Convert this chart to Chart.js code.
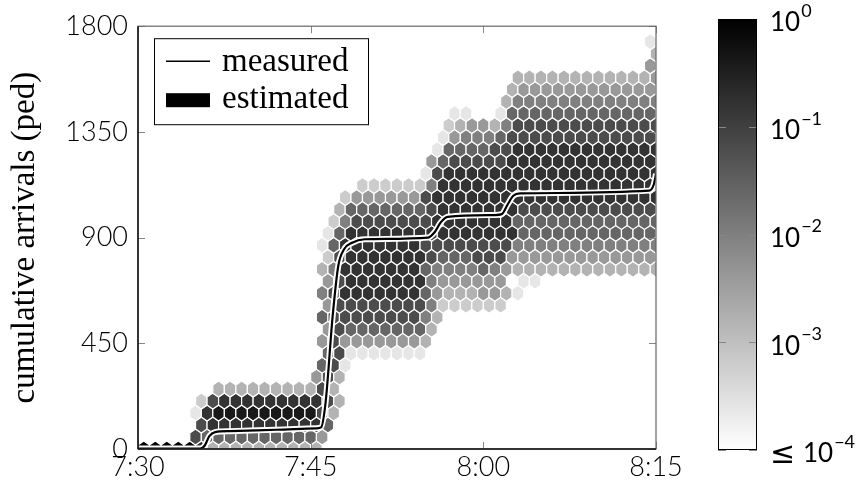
<!DOCTYPE html>
<html>
<head>
<meta charset="utf-8">
<script src="https://cdn.jsdelivr.net/npm/chart.js@4.4.1/dist/chart.umd.min.js"></script>
<style>
  html, body { margin: 0; padding: 0; background: #fff; }
  #wrap { position: relative; width: 862px; height: 486px; }
  #main { position: absolute; left: 0; top: 0; }
  #bar { position: absolute; left: 700px; top: 0; }
</style>
</head>
<body>
<div id="wrap">
  <canvas id="main" width="862" height="486"></canvas>
  <canvas id="bar" width="162" height="486"></canvas>
</div>
<script>
const timeTicks = [0, 15, 30, 45]
const timeLabels = ['7:30', '7:45', '8:00', '8:15']
const countTicks = [0, 450, 900, 1350, 1800]
const colorExponents = [-4, -3, -2, -1, 0]

// measured cumulative arrivals, minutes after 7:30
const measuredMinutes = [0, 5.4, 5.8, 6.2, 6.7, 8, 12, 15.5, 15.9, 16.3, 16.9, 17.4, 17.9, 18.6, 19.7, 25.2, 25.8, 26.3, 26.9, 31, 31.6, 32.1, 32.6, 33.2, 44.4, 44.8, 45]
const measuredCounts = [2, 2, 15, 55, 72, 76, 82, 88, 92, 200, 560, 780, 850, 878, 893, 900, 925, 965, 988, 996, 1000, 1040, 1078, 1088, 1100, 1125, 1171]

// estimated density, hexagonal bins
const binMinutes = 1
const binCount = 51
// one entry per bin row from 0 ped up: [first column, digits]
// digit d -> probability 10^(-4 + 0.4 d), 'a' -> 1, '.' -> empty
// even rows sit half a minute to the right
const hexRows = [
  [0, 'aaaaa83333333333'],
  [5, '766666666664'],
  [5, '788888888886'],
  [5, '1899999999973'],
  [5, '2788888888873'],
  [7, '33333333373'],
  [15, '473'],
  [16, '671'],
  [16, '671111111'],
  [16, '4744444443'],
  [16, '4766666663'],
  [16, '67777777753'],
  [16, '4777777775222222'],
  [16, '578888888643334431'],
  [16, '4788888885444444.11'],
  [16, '358888888655556543333333333333'],
  [16, '27888888876667774444444444444'],
  [16, '168888888777777775555555555555'],
  [16, '16888888888888888666666666666'],
  [17, '25777777788888886666666666666'],
  [17, '3666666678888888777777777777'],
  [18, '2444444788888888888888888888'],
  [19, '22222258888888888888888888'],
  [25, '178888888888888888888'],
  [25, '46777778888888888888'],
  [26, '16666778888888888888'],
  [26, '1455567777777777777'],
  [27, '2344357777777777777'],
  [27, '11..16666666666666'],
  [32, '35555555555555'],
  [32, '3444444444444'],
  [33, '3333333333334'],
  [44, '4'],
  [45, '3'],
  [44, '1']
]

const grayFor = logP => {
  const g = Math.round(255 * Math.min(1, Math.max(0, -logP / 4)))
  return `rgb(${g},${g},${g})`
}

const hexPoints = []
hexRows.forEach(([first, digits], k) => {
  [...digits].forEach((ch, i) => {
    if (ch === '.') return
    const level = ch === 'a' ? 10 : Number(ch)
    hexPoints.push({ x: first + i + (k % 2 === 0 ? 0.5 : 0), y: k * binCount, logP: -4 + 0.4 * level })
  })
})
const measuredPoints = measuredMinutes.map((m, i) => ({ x: m, y: measuredCounts[i] }))

const tickFont = { family: 'Lato', size: 27, weight: '300' }
const serif = '"Liberation Serif", "DejaVu Serif", serif'

const hexPlugin = {
  id: 'hexbins',
  beforeDatasetsDraw(chart) {
    const { ctx, chartArea: a, scales: { x, y } } = chart
    ctx.save()
    ctx.beginPath()
    ctx.rect(a.left, a.top, a.width, a.height)
    ctx.clip()
    ctx.strokeStyle = '#fff'
    ctx.lineWidth = 1.2
    chart.data.datasets[0].data.forEach(p => {
      const cx = x.getPixelForValue(p.x)
      const cy = y.getPixelForValue(p.y)
      const hw = x.getPixelForValue(p.x + binMinutes / 2) - cx
      const tip = cy - y.getPixelForValue(p.y + binCount * 2 / 3)
      const side = cy - y.getPixelForValue(p.y + binCount / 3)
      ctx.beginPath()
      ctx.moveTo(cx, cy - tip)
      ctx.lineTo(cx + hw, cy - side)
      ctx.lineTo(cx + hw, cy + side)
      ctx.lineTo(cx, cy + tip)
      ctx.lineTo(cx - hw, cy + side)
      ctx.lineTo(cx - hw, cy - side)
      ctx.closePath()
      ctx.fillStyle = grayFor(p.logP)
      ctx.fill()
      ctx.stroke()
    })
    ctx.restore()
  }
}

const framePlugin = {
  id: 'frame',
  afterDatasetsDraw(chart) {
    const { ctx, chartArea: a, scales: { x, y } } = chart
    ctx.save()
    ctx.strokeStyle = '#888'
    ctx.lineWidth = 1
    ctx.beginPath()
    timeTicks.forEach(v => {
      const px = Math.round(x.getPixelForValue(v)) + 0.5
      ctx.moveTo(px, a.bottom); ctx.lineTo(px, a.bottom - 7)
      ctx.moveTo(px, a.top); ctx.lineTo(px, a.top + 7)
    })
    countTicks.forEach(v => {
      const py = Math.round(y.getPixelForValue(v)) + 0.5
      ctx.moveTo(a.left, py); ctx.lineTo(a.left + 7, py)
      ctx.moveTo(a.right, py); ctx.lineTo(a.right - 7, py)
    })
    ctx.stroke()
    ctx.strokeStyle = '#666'
    ctx.lineWidth = 1.2
    ctx.strokeRect(a.left, a.top, a.width, a.height)
    ctx.strokeStyle = '#111'
    ctx.lineWidth = 1.5
    ctx.beginPath()
    ctx.moveTo(a.left, a.bottom); ctx.lineTo(a.right, a.bottom)
    ctx.moveTo(a.left, a.top); ctx.lineTo(a.left, a.bottom)
    ctx.stroke()
    ctx.restore()
  }
}

const legendPlugin = {
  id: 'boxLegend',
  afterDraw(chart) {
    const { ctx, chartArea: a } = chart
    const ds = chart.data.datasets
    const bx = a.left + 16, by = a.top + 12, bw = 214, bh = 86
    ctx.save()
    ctx.fillStyle = '#fff'
    ctx.fillRect(bx, by, bw, bh)
    ctx.strokeStyle = '#000'
    ctx.lineWidth = 1
    ctx.strokeRect(bx + 0.5, by + 0.5, bw, bh)
    ctx.lineWidth = 1.6
    ctx.beginPath()
    ctx.moveTo(bx + 12, by + 23); ctx.lineTo(bx + 56, by + 23)
    ctx.stroke()
    ctx.fillStyle = '#000'
    ctx.fillRect(bx + 12, by + 55, 44, 14)
    ctx.font = '33px ' + serif
    ctx.textBaseline = 'alphabetic'
    ctx.fillText(ds[2].label, bx + 68, by + 33)
    ctx.fillText(ds[0].label, bx + 68, by + 70)
    ctx.restore()
  }
}

new Chart(document.getElementById('main'), {
  type: 'scatter',
  data: {
    datasets: [
      { label: 'estimated', data: hexPoints, order: 3, pointRadius: 0, pointHoverRadius: 0, backgroundColor: '#000' },
      { label: 'outline', data: measuredPoints, order: 2, showLine: true, borderColor: '#fff', borderWidth: 6, pointRadius: 0, cubicInterpolationMode: 'monotone' },
      { label: 'measured', data: measuredPoints, order: 1, showLine: true, borderColor: '#000', borderWidth: 2.2, pointRadius: 0, cubicInterpolationMode: 'monotone' }
    ]
  },
  options: {
    responsive: false,
    animation: false,
    events: [],
    layout: { padding: { top: 20, right: 206, left: 0, bottom: 0 } },
    plugins: { legend: { display: false }, tooltip: { enabled: false } },
    scales: {
      x: {
        type: 'linear', min: 0, max: 45,
        afterFit: s => { s.height = 37 },
        afterBuildTicks: s => { s.ticks = timeTicks.map(v => ({ value: v })) },
        ticks: { callback: (v, i) => timeLabels[i], font: tickFont, color: '#000', padding: 2, maxRotation: 0, autoSkip: false },
        grid: { display: false, drawTicks: false },
        border: { display: false }
      },
      y: {
        type: 'linear', min: 0, max: 1800,
        afterFit: s => { s.width = 138 },
        afterBuildTicks: s => { s.ticks = countTicks.map(v => ({ value: v })) },
        ticks: { callback: v => String(v), font: tickFont, color: '#000', padding: 10, autoSkip: false },
        title: { display: true, text: 'cumulative arrivals (ped)', color: '#000', font: { family: 'Liberation Serif', size: 33 }, padding: { top: 6, bottom: 0 } },
        grid: { display: false, drawTicks: false },
        border: { display: false }
      }
    }
  },
  plugins: [hexPlugin, framePlugin, legendPlugin]
})

const colorbarPlugin = {
  id: 'colorbarTicks',
  afterDraw(chart) {
    const { ctx, chartArea: a, scales: { y } } = chart
    ctx.save()
    ctx.strokeStyle = '#888'
    ctx.lineWidth = 1
    ctx.beginPath()
    colorExponents.forEach(e => {
      const py = Math.round(y.getPixelForValue(e)) + 0.5
      ctx.moveTo(a.left, py); ctx.lineTo(a.left + 8, py)
      ctx.moveTo(a.right, py); ctx.lineTo(a.right - 8, py)
    })
    ctx.stroke()
    ctx.strokeStyle = '#000'
    ctx.lineWidth = 1
    ctx.strokeRect(a.left + 0.5, a.top + 0.5, a.width - 1, a.height - 1)
    ctx.fillStyle = '#000'
    ctx.textBaseline = 'middle'
    colorExponents.forEach(e => {
      const py = y.getPixelForValue(e)
      let px = a.right + 13
      if (e === colorExponents[0]) {
        ctx.font = '30px "DejaVu Sans"'
        ctx.fillText('\u2264', px, py + 5)
        px += 33
      }
      ctx.font = '26px Lato, "DejaVu Sans"'
      ctx.fillText('10', px, py + 4)
      px += ctx.measureText('10').width + 1
      ctx.font = '18px Lato, "DejaVu Sans"'
      ctx.fillText(e === 0 ? '0' : '\u2212' + Math.abs(e), px, py - 8)
    })
    ctx.restore()
  }
}

new Chart(document.getElementById('bar'), {
  type: 'bar',
  data: {
    labels: ['p'],
    datasets: [{
      data: [[colorExponents[0], colorExponents[colorExponents.length - 1]]],
      backgroundColor: c => {
        const a = c.chart.chartArea
        if (!a) return '#888'
        const g = c.chart.ctx.createLinearGradient(0, a.bottom, 0, a.top)
        g.addColorStop(0, grayFor(colorExponents[0]))
        g.addColorStop(1, grayFor(colorExponents[colorExponents.length - 1]))
        return g
      },
      borderWidth: 0,
      barPercentage: 1,
      categoryPercentage: 1
    }]
  },
  options: {
    responsive: false,
    animation: false,
    events: [],
    layout: { padding: { left: 18, right: 105, top: 19, bottom: 36 } },
    plugins: { legend: { display: false }, tooltip: { enabled: false } },
    scales: {
      x: { display: false },
      y: { display: false, min: -4, max: 0 }
    }
  },
  plugins: [colorbarPlugin]
})
</script>
</body>
</html>
